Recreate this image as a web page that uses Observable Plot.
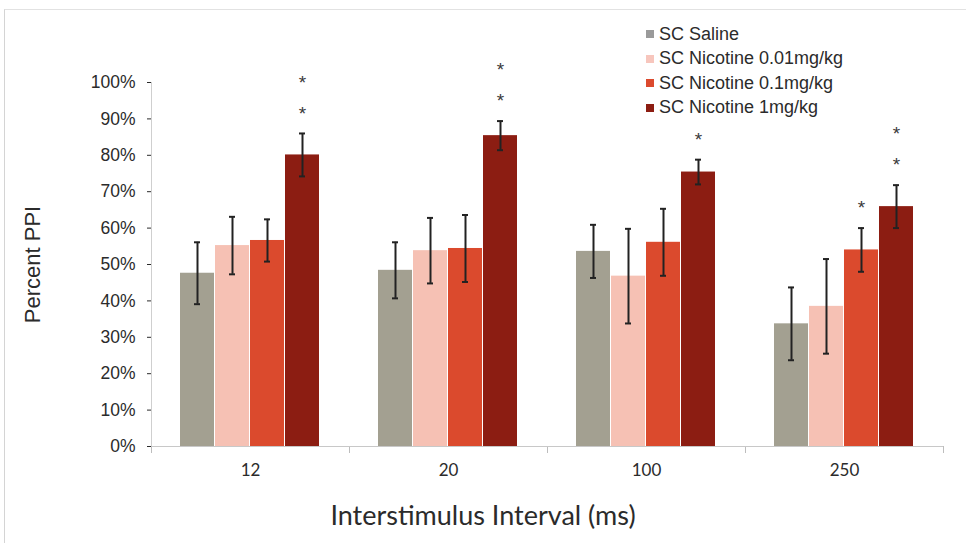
<!DOCTYPE html>
<html>
<head>
<meta charset="utf-8">
<script src="https://cdn.jsdelivr.net/npm/d3@7"></script>
<script src="https://cdn.jsdelivr.net/npm/@observablehq/plot@0.6"></script>
<style>
  html, body { margin: 0; padding: 0; background: #ffffff; }
  #wrap { position: relative; width: 966px; height: 543px; overflow: hidden; background: #fff; }
  #scanframe { position: absolute; left: 4px; top: 9px; right: 0; bottom: 0; border-left: 1px solid #d4d4d4; border-top: 1px solid #e2e2e2; pointer-events: none; }
  #legend { position: absolute; left: 646px; top: 22px; font-family: "Liberation Sans", Arial, sans-serif; font-size: 18px; color: #2b2b2b; }
  #legend .row { display: flex; align-items: center; height: 24.5px; white-space: nowrap; }
  #legend .sw { width: 8px; height: 8px; margin-right: 5px; flex: none; }
  #xtitle { position: absolute; left: 0; width: 966px; top: 500px; text-align: center; font-family: Lato, "Open Sans", sans-serif; font-size: 27px; line-height: 30px; color: #2b2b2b; }
  svg [aria-label="y-axis tick"] { stroke: #b8b8b8; }
</style>
</head>
<body>
<div id="wrap"><div id="scanframe"></div></div>
<script>
// ---- data ----
const groups = ["12", "20", "100", "250"];
const series = ["SC Saline", "SC Nicotine 0.01mg/kg", "SC Nicotine 0.1mg/kg", "SC Nicotine 1mg/kg"];
const colors = ["#a3a091", "#f6c1b4", "#db4a2d", "#8c1d12"];
const legendColors = ["#9a9a9a", "#f7c6bd", "#dc4a2e", "#8c1d12"];

const salineMean  = [47.6, 48.4, 53.6, 33.7];
const nic001Mean  = [55.2, 53.8, 46.8, 38.5];
const nic01Mean   = [56.6, 54.4, 56.1, 54.0];
const nic1Mean    = [80.1, 85.4, 75.4, 65.9];

const salineErr   = [8.5, 7.7, 7.3, 10.0];
const nic001Err   = [7.9, 9.0, 13.0, 13.0];
const nic01Err    = [5.8, 9.2, 9.2, 6.0];
const nic1Err     = [5.9, 4.0, 3.4, 5.9];

const salineStars = [0, 0, 0, 0];
const nic001Stars = [0, 0, 0, 0];
const nic01Stars  = [0, 0, 0, 1];
const nic1Stars   = [2, 2, 1, 2];

const yTicks = [0, 10, 20, 30, 40, 50, 60, 70, 80, 90, 100];
const yLabel = "Percent PPI";
const xLabel = "Interstimulus Interval (ms)";

// ---- build table ----
const means = [salineMean, nic001Mean, nic01Mean, nic1Mean];
const errs = [salineErr, nic001Err, nic01Err, nic1Err];
const stars = [salineStars, nic001Stars, nic01Stars, nic1Stars];
const rows = [];
series.forEach((s, i) => groups.forEach((g, j) => {
  rows.push({group: g, series: s, value: means[i][j], err: errs[i][j], stars: stars[i][j]});
}));
const star1 = rows.filter(d => d.stars >= 1);
const star2 = rows.filter(d => d.stars >= 2);

const W = 966, H = 543;
const mL = 151, mR = 23, mT = 82, mB = 97;
const innerH = H - mT - mB;

const sans = "Liberation Sans, Arial, Helvetica, sans-serif";
const calibriLike = "Lato, 'Open Sans', sans-serif";

const chart = Plot.plot({
  width: W,
  height: H,
  marginLeft: mL,
  marginRight: mR,
  marginTop: mT,
  marginBottom: mB,
  style: {fontFamily: sans, fontSize: "17px", background: "transparent", color: "#2b2b2b", overflow: "visible"},
  fx: {domain: groups, padding: 0},
  x: {domain: series, paddingInner: 0.02, paddingOuter: 0.77, axis: null},
  y: {domain: [0, 100]},
  color: {domain: series, range: colors},
  marks: [
    Plot.frame({anchor: "left", facetAnchor: "left", stroke: "#cfcfcf"}),
    Plot.frame({anchor: "left", insetTop: innerH, insetBottom: -6, stroke: "#bdbdbd"}),
    Plot.frame({anchor: "right", facetAnchor: "right", insetTop: innerH, insetBottom: -6, stroke: "#bdbdbd"}),
    Plot.barY(rows, {fx: "group", x: "series", y: "value", fill: "series"}),
    Plot.ruleY([0], {stroke: "#c8c8c8"}),
    Plot.ruleX(rows, {fx: "group", x: "series", y1: d => d.value - d.err, y2: d => d.value + d.err, stroke: "#222", strokeWidth: 2}),
    Plot.tickY(rows, {fx: "group", x: "series", y: d => d.value - d.err, stroke: "#222", strokeWidth: 2, inset: 14}),
    Plot.tickY(rows, {fx: "group", x: "series", y: d => d.value + d.err, stroke: "#222", strokeWidth: 2, inset: 14}),
    Plot.text(star1, {fx: "group", x: "series", y: d => d.value + d.err, text: () => "*", dy: -20, fontSize: 19, fill: "#3a3a3a", fontFamily: sans}),
    Plot.text(star2, {fx: "group", x: "series", y: d => d.value + d.err, text: () => "*", dy: -51, fontSize: 19, fill: "#3a3a3a", fontFamily: sans}),
    Plot.axisY({ticks: yTicks, tickFormat: d => d + "%", tickSize: 4, tickPadding: 12, label: null, fontSize: 17.5, color: "#2b2b2b"}),
    Plot.axisY({ticks: [], label: yLabel, labelAnchor: "center", labelArrow: "none", labelOffset: 127, fontSize: 22, color: "#2b2b2b"}),
    Plot.axisFx({anchor: "bottom", tickSize: 0, tickPadding: 17, label: null, fontSize: 17, fontFamily: calibriLike, color: "#2b2b2b"})
  ]
});
document.getElementById("wrap").appendChild(chart);

// x-axis title, centred under the chart
d3.select("#wrap").append("div").attr("id", "xtitle").text(xLabel);

// legend (HTML, built from the same arrays)
const legend = d3.select("#wrap").append("div").attr("id", "legend");
series.forEach((s, i) => {
  const r = legend.append("div").attr("class", "row");
  r.append("span").attr("class", "sw").style("background", legendColors[i]);
  r.append("span").text(s);
});
</script>
</body>
</html>
